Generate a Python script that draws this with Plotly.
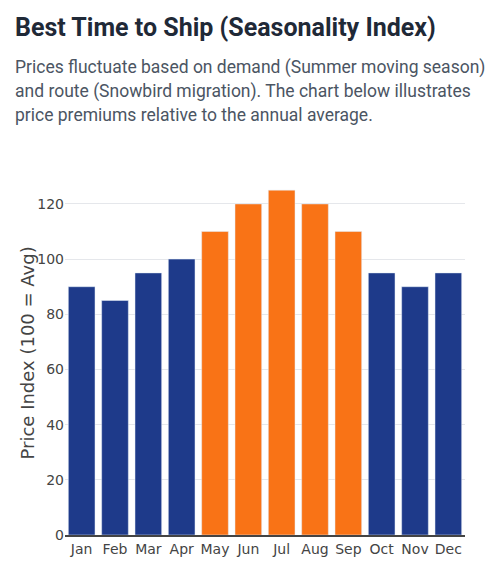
import plotly.graph_objects as go

months = ["Jan", "Feb", "Mar", "Apr", "May", "Jun", "Jul", "Aug", "Sep", "Oct", "Nov", "Dec"]
index_values = [90, 85, 95, 100, 110, 120, 125, 120, 110, 95, 90, 95]
peak_months = ["May", "Jun", "Jul", "Aug", "Sep"]

BLUE = "#1e3a8a"
ORANGE = "#f97316"
colors = [ORANGE if m in peak_months else BLUE for m in months]

W, H = 502, 583
L, R, T, B = 65, W - 465, 172, H - 535
ph = H - T - B
pw = W - L - R

def py(px_from_top):
    return (H - B - px_from_top) / ph

def pxx(px):
    return (px - L) / pw

fig = go.Figure(go.Bar(
    x=months, y=index_values,
    marker=dict(color=colors, line=dict(color="#E5ECF6", width=0.5)),
    hovertemplate="%{x}: %{y}<extra></extra>",
))

annotations = [
    dict(text="<b>Best Time to Ship (Seasonality Index)</b>", x=pxx(13), y=py(27),
         font=dict(family="Roboto", size=25, color="#1f2937"), xanchor="left"),
    dict(text="Prices fluctuate based on demand (Summer moving season)", x=pxx(13), y=py(67),
         font=dict(family="Roboto", size=17.5, color="#4b5563"), xanchor="left"),
    dict(text="and route (Snowbird migration). The chart below illustrates", x=pxx(13), y=py(91),
         font=dict(family="Roboto", size=17.5, color="#4b5563"), xanchor="left"),
    dict(text="price premiums relative to the annual average.", x=pxx(13), y=py(115),
         font=dict(family="Roboto", size=17.5, color="#4b5563"), xanchor="left"),
    dict(text="Price Index (100 = Avg)", x=pxx(27), y=0.5, textangle=-90, xanchor="center",
         font=dict(family="DejaVu Sans, Verdana, sans-serif", size=18, color="#444")),
]
for a in annotations:
    a.update(xref="paper", yref="paper", yanchor="middle", showarrow=False)

fig.update_layout(
    width=W, height=H,
    margin=dict(l=L, r=R, t=T, b=B),
    paper_bgcolor="white", plot_bgcolor="white",
    font=dict(family="DejaVu Sans, Verdana, sans-serif", size=14, color="#444"),
    bargap=0.2,
    showlegend=False,
    annotations=annotations,
    xaxis=dict(showline=True, linecolor="#444", linewidth=2, showgrid=False,
               tickfont=dict(size=14), ticks=""),
    yaxis=dict(range=[0, 131.58], dtick=20, gridcolor="#e5e7eb", gridwidth=1,
               zeroline=False, showline=False, tickfont=dict(size=14)),
)

fig.write_html("out.html", config={"displayModeBar": False},
               post_script="document.body.style.margin='0';document.body.style.overflow='hidden';")
